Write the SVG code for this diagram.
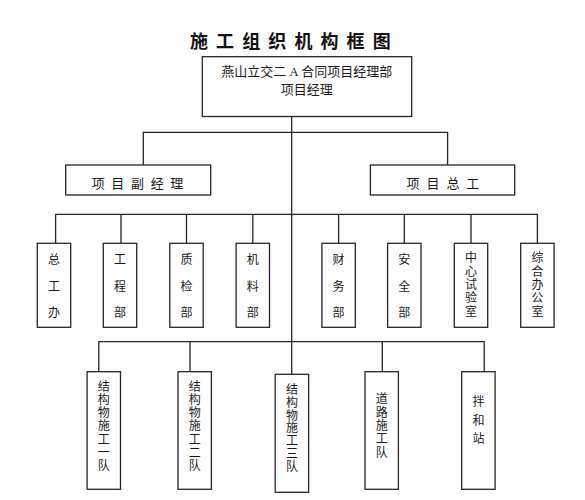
<svg xmlns="http://www.w3.org/2000/svg" width="585" height="500" viewBox="0 0 585 500">
<style>
  .box { fill: #ffffff; stroke: #262626; stroke-width: 1.3; }
  .ln { fill: none; stroke: #262626; stroke-width: 1.3; }
  .t { font-family: 'Liberation Serif', 'Noto Sans CJK SC', serif; fill: #1a1a1a; text-anchor: middle; dominant-baseline: central; }
  .h { font-size: 13px; }
  .v { font-size: 12px; }
  .title { font-family: 'Noto Sans CJK SC', sans-serif; font-size: 18px; font-weight: bold; fill: #111; text-anchor: middle; dominant-baseline: central; }
</style>
<rect width="585" height="500" fill="#ffffff"/>
<text class="title" x="199 212.05 225.1 238.15 251.2 264.25 277.3 290.35 303.4 316.45 329.5 342.55 355.6 368.65 381.7" y="40">施 工 组 织 机 构 框 图</text>

<g id="connectors">
  <path class="ln" d="M291.7 116.7 V374.3"/>
  <path class="ln" d="M143.3 165 V132.3 H447.6 V165"/>
  <path class="ln" d="M55.6 243.3 V214.3 H537.4 V243.3"/>
  <path class="ln" d="M121 214.3 V243.3 M186.5 214.3 V243.3 M252.8 214.3 V243.3 M338.6 214.3 V243.3 M404.3 214.3 V243.3 M471 214.3 V243.3"/>
  <path class="ln" d="M98.8 371.7 V341.7 H484.2 V371.7"/>
  <path class="ln" d="M190 341.7 V371.7 M382.3 341.7 V371.7"/>
</g>

<g id="n-top">
  <rect class="box" x="202.3" y="56.7" width="209.4" height="59.8"/>
  <text class="t h" x="306.7" y="71" textLength="171" lengthAdjust="spacing">燕山立交二 A 合同项目经理部</text>
  <text class="t h" x="306.8" y="89">项目经理</text>
</g>

<g id="n-fujingli">
  <rect class="box" x="65.7" y="165" width="145" height="30"/>
  <text class="t h" x="98.2 108.03 117.85 127.68 137.5 147.33 157.15 166.98 176.8" y="183">项 目 副 经 理</text>
</g>
<g id="n-zonggong">
  <rect class="box" x="370.4" y="165" width="144.3" height="30"/>
  <text class="t h" x="413.1 423.05 433 442.95 452.9 462.85 472.8" y="183">项 目 总 工</text>
</g>

<g id="n-zonggongban">
  <rect class="box" x="37.3" y="243.3" width="33.4" height="84"/>
  <text class="t v" x="54 54 54" y="260 286.5 313">总工办</text>
</g>
<g id="n-gongchengbu">
  <rect class="box" x="103.3" y="243.3" width="33.4" height="84"/>
  <text class="t v" x="120 120 120" y="260 286.5 313">工程部</text>
</g>
<g id="n-zhijianbu">
  <rect class="box" x="169.8" y="243.3" width="33.4" height="84"/>
  <text class="t v" x="186.5 186.5 186.5" y="260 286.5 313">质检部</text>
</g>
<g id="n-jiliaobu">
  <rect class="box" x="236.1" y="243.3" width="33.4" height="84"/>
  <text class="t v" x="252.8 252.8 252.8" y="260 286.5 313">机料部</text>
</g>
<g id="n-caiwubu">
  <rect class="box" x="321.9" y="243.3" width="33.4" height="84"/>
  <text class="t v" x="338.6 338.6 338.6" y="260 286.5 313">财务部</text>
</g>
<g id="n-anquanbu">
  <rect class="box" x="387.6" y="243.3" width="33.4" height="84"/>
  <text class="t v" x="404.3 404.3 404.3" y="260 286.5 313">安全部</text>
</g>
<g id="n-shiyanshi">
  <rect class="box" x="454.3" y="243.3" width="33.4" height="84"/>
  <text class="t v" x="471 471 471 471 471" y="258.3 271.6 284.9 298.2 311.5">中心试验室</text>
</g>
<g id="n-bangongshi">
  <rect class="box" x="520.7" y="243.3" width="33.4" height="84"/>
  <text class="t v" x="537.4 537.4 537.4 537.4 537.4" y="258.3 271.6 284.9 298.2 311.5">综合办公室</text>
</g>

<g id="n-dui1">
  <rect class="box" x="87.1" y="371.7" width="33.4" height="117.6"/>
  <text class="t v" x="103.8 103.8 103.8 103.8 103.8 103.8 103.8" y="386.7 399.9 413.1 426.3 439.5 452.7 465.9">结构物施工一队</text>
</g>
<g id="n-dui2">
  <rect class="box" x="178" y="371.7" width="33.4" height="117.6"/>
  <text class="t v" x="194.7 194.7 194.7 194.7 194.7 194.7 194.7" y="386.7 399.9 413.1 426.3 439.5 452.7 465.9">结构物施工二队</text>
</g>
<g id="n-dui3">
  <rect class="box" x="275.2" y="374.3" width="33.4" height="118"/>
  <text class="t v" x="291.9 291.9 291.9 291.9 291.9 291.9 291.9" y="390 402.8 415.6 428.4 441.2 454 466.8">结构物施工三队</text>
</g>
<g id="n-daolu">
  <rect class="box" x="365" y="371.7" width="33.4" height="117.6"/>
  <text class="t v" x="381.7 381.7 381.7 381.7 381.7" y="399.3 412.6 425.9 439.2 452.5">道路施工队</text>
</g>
<g id="n-banhezhan">
  <rect class="box" x="461.7" y="371.7" width="33.4" height="117.6"/>
  <text class="t v" x="478.4 478.4 478.4" y="401.7 420.5 439.3">拌和站</text>
</g>
</svg>
